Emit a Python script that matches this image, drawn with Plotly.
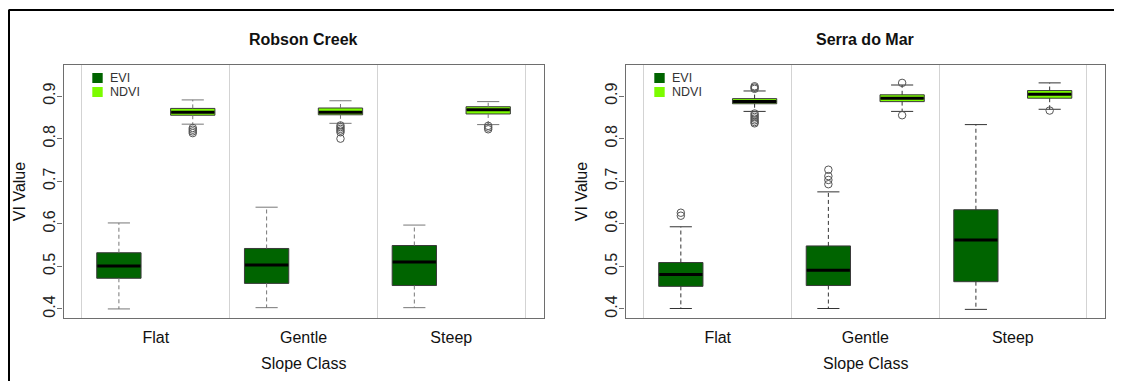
import plotly.graph_objects as go

# page body adds an 8px margin; all reference pixel positions are shifted by it
OFF = 8
W, H = 1122 - OFF, 381 - OFF

# ---------------- data ----------------
classes = ["Flat", "Gentle", "Steep"]
sites = ["Robson Creek", "Serra do Mar"]
index_names = ["EVI", "NDVI"]
y_ticks = [0.4, 0.5, 0.6, 0.7, 0.8, 0.9]

# Robson Creek - EVI
rc_evi_low = [0.400, 0.403, 0.403]
rc_evi_q1 = [0.472, 0.460, 0.455]
rc_evi_med = [0.501, 0.503, 0.510]
rc_evi_q3 = [0.532, 0.542, 0.549]
rc_evi_up = [0.602, 0.639, 0.597]
rc_evi_out = [[], [], []]

# Robson Creek - NDVI
rc_ndvi_low = [0.834, 0.836, 0.833]
rc_ndvi_q1 = [0.855, 0.856, 0.858]
rc_ndvi_med = [0.862, 0.862, 0.868]
rc_ndvi_q3 = [0.871, 0.872, 0.875]
rc_ndvi_up = [0.891, 0.889, 0.887]
rc_ndvi_out = [[0.825, 0.821, 0.817, 0.813],
               [0.831, 0.827, 0.823, 0.819, 0.815, 0.800],
               [0.830, 0.826, 0.822]]

# Serra do Mar - EVI
sm_evi_low = [0.401, 0.401, 0.399]
sm_evi_q1 = [0.453, 0.455, 0.464]
sm_evi_med = [0.481, 0.491, 0.562]
sm_evi_q3 = [0.509, 0.548, 0.633]
sm_evi_up = [0.593, 0.675, 0.833]
sm_evi_out = [[0.626, 0.619], [0.727, 0.712, 0.703, 0.693], []]

# Serra do Mar - NDVI
sm_ndvi_low = [0.864, 0.864, 0.869]
sm_ndvi_q1 = [0.882, 0.887, 0.895]
sm_ndvi_med = [0.887, 0.895, 0.904]
sm_ndvi_q3 = [0.894, 0.903, 0.913]
sm_ndvi_up = [0.912, 0.926, 0.931]
sm_ndvi_out = [[0.923, 0.920, 0.917, 0.859, 0.855, 0.851, 0.847, 0.843, 0.839, 0.836],
               [0.931, 0.855],
               [0.866]]

# ---------------- style ----------------
FILL = {"EVI": "#006400", "NDVI": "#7CFC00"}
OFFSET = {"EVI": -0.25, "NDVI": 0.25}
BOX_W = 0.30
CAP_HALF = 0.075
FONT = "Liberation Sans, Arial, sans-serif"

panels = [
    dict(title=sites[0], xaxis="x", yaxis="y", xdom=(63.5, 543.6), whisk="#777777",
         data={"EVI": (rc_evi_low, rc_evi_q1, rc_evi_med, rc_evi_q3, rc_evi_up, rc_evi_out),
               "NDVI": (rc_ndvi_low, rc_ndvi_q1, rc_ndvi_med, rc_ndvi_q3, rc_ndvi_up, rc_ndvi_out)}),
    dict(title=sites[1], xaxis="x2", yaxis="y2", xdom=(625.5, 1105.0), whisk="#333333",
         data={"EVI": (sm_evi_low, sm_evi_q1, sm_evi_med, sm_evi_q3, sm_evi_up, sm_evi_out),
               "NDVI": (sm_ndvi_low, sm_ndvi_q1, sm_ndvi_med, sm_ndvi_q3, sm_ndvi_up, sm_ndvi_out)}),
]

PLOT_TOP, PLOT_BOT = 65.0, 318.3


def px(x):
    return (x - OFF) / W


def py(y):
    return 1 - (y - OFF) / H


fig = go.Figure()
cat_pos = [i + 1 for i in range(len(classes))]

# boxes first (drawn underneath the scatter layers)
for p in panels:
    for name in index_names:
        low, q1, med, q3, up, out = p["data"][name]
        xs = [c + OFFSET[name] for c in cat_pos]
        fig.add_trace(go.Box(
            x=xs, q1=q1, median=med, q3=q3, lowerfence=q1, upperfence=q3,
            width=BOX_W, whiskerwidth=0, fillcolor=FILL[name],
            line=dict(color="#3a3a3a", width=1), boxpoints=False,
            xaxis=p["xaxis"], yaxis=p["yaxis"], showlegend=False, name=name,
            hoverinfo="skip"))

for p in panels:
    for name in index_names:
        low, q1, med, q3, up, out = p["data"][name]
        xs = [c + OFFSET[name] for c in cat_pos]
        wx, wy, cx, cy, mx, my, ox, oy = [], [], [], [], [], [], [], []
        for i, x in enumerate(xs):
            wx += [x, x, None, x, x, None]
            wy += [q3[i], up[i], None, q1[i], low[i], None]
            cx += [x - CAP_HALF, x + CAP_HALF, None, x - CAP_HALF, x + CAP_HALF, None]
            cy += [up[i], up[i], None, low[i], low[i], None]
            mx += [x - BOX_W / 2 + 0.004, x + BOX_W / 2 - 0.004, None]
            my += [med[i], med[i], None]
            ox += [x] * len(out[i])
            oy += out[i]
        common = dict(xaxis=p["xaxis"], yaxis=p["yaxis"], showlegend=False, hoverinfo="skip")
        fig.add_trace(go.Scatter(x=wx, y=wy, mode="lines",
                                 line=dict(color=p["whisk"], width=1, dash="4px,3px"), **common))
        fig.add_trace(go.Scatter(x=cx, y=cy, mode="lines",
                                 line=dict(color=p["whisk"], width=1), **common))
        fig.add_trace(go.Scatter(x=mx, y=my, mode="lines",
                                 line=dict(color="black", width=3), **common))
        fig.add_trace(go.Scatter(x=ox, y=oy, mode="markers",
                                 marker=dict(symbol="circle-open", size=7.5,
                                             color="#555555", line=dict(width=1)), **common))

axis_common_x = dict(range=[0.375, 3.625], tickmode="array", tickvals=cat_pos, ticktext=classes,
                     ticks="outside", ticklen=4, tickcolor="rgba(0,0,0,0)",
                     tickfont=dict(size=16, color="#111111", family=FONT),
                     showgrid=False, zeroline=False, showline=True, mirror=True,
                     linecolor="#6e6e6e", linewidth=1.3,
                     minor=dict(tick0=0.5, dtick=1, showgrid=True, gridcolor="#d3d3d3",
                                gridwidth=1, ticks=""))
axis_common_y = dict(range=[0.378, 0.973], tickmode="array", tickvals=y_ticks,
                     ticktext=[f"{v:.1f}" for v in y_ticks], tickangle=-90,
                     ticks="outside", ticklen=5, tickcolor="#6e6e6e", ticklabelstandoff=-4,
                     tickfont=dict(size=16, color="#222222", family=FONT),
                     showgrid=False, zeroline=False, showline=True, mirror=True,
                     linecolor="#6e6e6e", linewidth=1.3)

ydom = [py(PLOT_BOT), py(PLOT_TOP)]
fig.update_layout(
    width=W, height=H, margin=dict(l=0, r=0, t=0, b=0),
    paper_bgcolor="white", plot_bgcolor="white", showlegend=False,
    xaxis=dict(domain=[px(panels[0]["xdom"][0]), px(panels[0]["xdom"][1])], anchor="y", **axis_common_x),
    yaxis=dict(domain=ydom, anchor="x", **axis_common_y),
    xaxis2=dict(domain=[px(panels[1]["xdom"][0]), px(panels[1]["xdom"][1])], anchor="y2", **axis_common_x),
    yaxis2=dict(domain=ydom, anchor="x2", **axis_common_y),
)

annotations = []
shapes = []
for p in panels:
    x0, x1 = p["xdom"]
    xc = (x0 + x1) / 2
    annotations.append(dict(text=f"<b>{p['title']}</b>", x=px(xc), y=py(39), xref="paper", yref="paper",
                            showarrow=False, xanchor="center", yanchor="middle",
                            font=dict(size=16, color="#111111", family=FONT)))
    annotations.append(dict(text="Slope Class", x=px(xc), y=py(363), xref="paper", yref="paper",
                            showarrow=False, xanchor="center", yanchor="middle",
                            font=dict(size=16, color="#111111", family=FONT)))
    annotations.append(dict(text="VI Value", x=px(x0 - 44), y=py((PLOT_TOP + PLOT_BOT) / 2),
                            xref="paper", yref="paper", showarrow=False, textangle=-90,
                            xanchor="center", yanchor="middle",
                            font=dict(size=16, color="#111111", family=FONT)))
    # legend (swatch + label)
    for k, name in enumerate(index_names):
        yc = 78 + 14 * k
        shapes.append(dict(type="rect", xref="paper", yref="paper",
                           x0=px(x0 + 28.8), x1=px(x0 + 39.2), y0=py(yc + 5), y1=py(yc - 5),
                           fillcolor=FILL[name], line=dict(width=0)))
        annotations.append(dict(text=name, x=px(x0 + 44), y=py(yc), xref="paper", yref="paper",
                                showarrow=False, xanchor="left", yanchor="middle",
                                font=dict(size=12.5, color="#333333", family=FONT)))

# outer frame lines (top and left)
shapes.append(dict(type="line", xref="paper", yref="paper", x0=px(8.5), x1=1, y0=py(10), y1=py(10),
                   line=dict(color="black", width=2)))
shapes.append(dict(type="line", xref="paper", yref="paper", x0=px(9), x1=px(9), y0=py(10), y1=0,
                   line=dict(color="black", width=2)))

fig.update_layout(annotations=annotations, shapes=shapes)
fig.write_html("out.html")
